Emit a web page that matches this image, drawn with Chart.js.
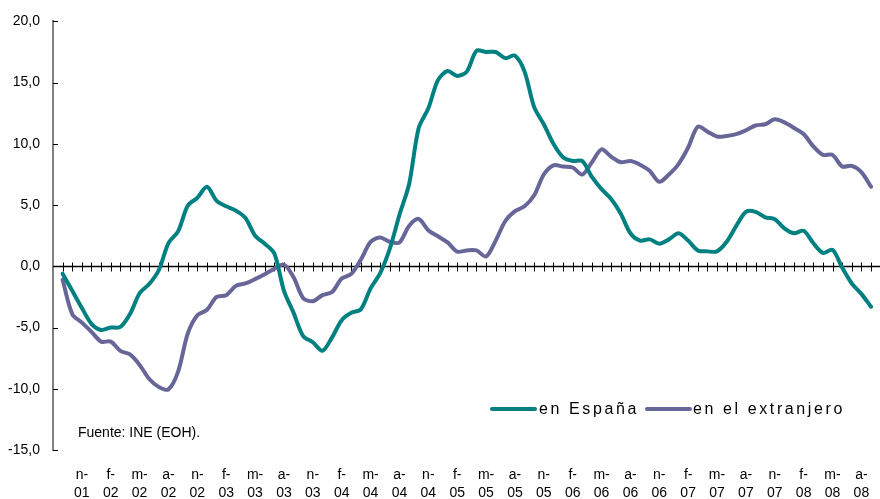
<!DOCTYPE html>
<html>
<head>
<meta charset="utf-8">
<script src="https://cdn.jsdelivr.net/npm/chart.js@4.4.1/dist/chart.umd.min.js"></script>
<style>
  body { margin: 0; background: #fff; font-family: "Liberation Sans", Arial, sans-serif; }
  #wrap { position: relative; width: 880px; height: 499px; }
  #wrap canvas { position: absolute; left: 0; top: 0; }
  .linea { position: absolute; top: 407px; width: 47px; height: 4px; border-radius: 2px; }
  .texto { position: absolute; top: 399px; font-size: 16px; line-height: 20px; letter-spacing: 2.6px; color: #000; white-space: nowrap; }
  #fuente { position: absolute; left: 78px; top: 424px; font-size: 14px; line-height: 16px; color: #000; }
</style>
</head>
<body>
<div id="wrap">
  <canvas id="grafico" width="880" height="499"></canvas>
  <div class="linea" style="left:490px;background:#008080"></div>
  <div class="texto" style="left:539px">en España</div>
  <div class="linea" style="left:645px;background:#666699"></div>
  <div class="texto" style="left:693px">en el extranjero</div>
  <div id="fuente">Fuente: INE (EOH).</div>
</div>
<script>
// Meses de agosto 2001 a septiembre 2008 (el primero va sin dato)
var categorias = [
  'a-01','s-01','o-01','n-01','d-01',
  'e-02','f-02','m-02','a-02','m-02','j-02','j-02','a-02','s-02','o-02','n-02','d-02',
  'e-03','f-03','m-03','a-03','m-03','j-03','j-03','a-03','s-03','o-03','n-03','d-03',
  'e-04','f-04','m-04','a-04','m-04','j-04','j-04','a-04','s-04','o-04','n-04','d-04',
  'e-05','f-05','m-05','a-05','m-05','j-05','j-05','a-05','s-05','o-05','n-05','d-05',
  'e-06','f-06','m-06','a-06','m-06','j-06','j-06','a-06','s-06','o-06','n-06','d-06',
  'e-07','f-07','m-07','a-07','m-07','j-07','j-07','a-07','s-07','o-07','n-07','d-07',
  'e-08','f-08','m-08','a-08','m-08','j-08','j-08','a-08','s-08'
];

// Etiquetas del eje X (una cada tres meses)
var etiquetasX = ['n-01','f-02','m-02','a-02','n-02','f-03','m-03','a-03','n-03','f-04','m-04','a-04','n-04','f-05',
  'm-05','a-05','n-05','f-06','m-06','a-06','n-06','f-07','m-07','a-07','n-07','f-08','m-08','a-08'];

var enEspana = [null,
  -0.6, -2.0, -3.4, -4.7, -5.2, -5.0, -4.95, -3.9, -2.2, -1.45,
  -0.3, 1.9, 2.85, 4.95, 5.6, 6.5, 5.35, 4.9, 4.55, 3.95,
  2.5, 1.85, 1.05, -2.0, -3.8, -5.7, -6.2, -6.9, -5.8, -4.4,
  -3.8, -3.5, -1.8, -0.55, 1.45, 4.2, 6.7, 11.3, 12.9, 15.2,
  15.95, 15.55, 15.9, 17.6, 17.5, 17.5, 17.0, 17.2, 15.9, 13.0,
  11.6, 10.0, 8.9, 8.6, 8.6, 7.3, 6.3, 5.5, 4.3, 2.7,
  2.1, 2.2, 1.85, 2.2, 2.7, 2.1, 1.3, 1.22, 1.22, 2.0,
  3.3, 4.45, 4.45, 4.0, 3.85, 3.1, 2.7, 2.9, 1.9, 1.1,
  1.35, -0.1, -1.4, -2.25, -3.3
];

var enExtranjero = [null,
  -1.1, -3.9, -4.6, -5.35, -6.15, -6.15, -6.9, -7.2, -8.05, -9.2,
  -9.85, -10.05, -8.6, -5.5, -4.0, -3.55, -2.5, -2.36, -1.6, -1.4,
  -1.05, -0.65, -0.2, 0.15, -0.9, -2.6, -2.85, -2.35, -2.1, -1.0,
  -0.62, 0.55, 2.0, 2.35, 2.0, 1.95, 3.3, 3.87, 2.95, 2.45,
  1.95, 1.2, 1.3, 1.3, 0.8, 2.1, 3.7, 4.5, 4.9, 5.8,
  7.5, 8.25, 8.15, 8.07, 7.5, 8.5, 9.55, 8.95, 8.5, 8.6,
  8.3, 7.8, 6.9, 7.5, 8.35, 9.7, 11.4, 11.0, 10.6, 10.65,
  10.8, 11.1, 11.5, 11.6, 12.0, 11.75, 11.3, 10.8, 9.8, 9.1,
  9.1, 8.15, 8.2, 7.7, 6.5
];

// Linea del cero con las marcas de cada mes y marcas del eje Y
var ejeCero = {
  id: 'ejeCero',
  beforeDatasetsDraw: function(chart) {
    var ctx = chart.ctx;
    var sx = chart.scales.x, sy = chart.scales.y;
    var y0 = Math.round(sy.getPixelForValue(0)) + 0.5;
    var izq = chart.chartArea.left;
    ctx.save();
    ctx.strokeStyle = '#000';
    ctx.lineWidth = 1.5;
    ctx.beginPath();
    ctx.moveTo(izq, y0);
    ctx.lineTo(chart.width, y0);
    ctx.stroke();
    ctx.lineWidth = 1;
    ctx.beginPath();
    for (var i = 1; i < categorias.length; i++) {
      var px = Math.round(sx.getPixelForValue(i)) + 0.5;
      ctx.moveTo(px, y0 - 4);
      ctx.lineTo(px, y0 + 5);
    }
    for (var v = -15; v <= 20; v += 5) {
      var py = Math.round(sy.getPixelForValue(v)) + 0.5;
      ctx.moveTo(izq, py);
      ctx.lineTo(izq + 5, py);
    }
    ctx.stroke();
    ctx.restore();
  }
};

Chart.defaults.font.family = '"Liberation Sans", Arial, sans-serif';
Chart.defaults.color = '#000';

var ctx = document.getElementById('grafico').getContext('2d');
var miGrafico = new Chart(ctx, {
  type: 'line',
  data: {
    labels: categorias,
    datasets: [{
      label: 'en España',
      data: enEspana,
      borderColor: '#008080',
      borderWidth: 4,
      tension: 0.3,
      pointRadius: 0,
      borderCapStyle: 'round',
      borderJoinStyle: 'round'
    }, {
      label: 'en el extranjero',
      data: enExtranjero,
      borderColor: '#666699',
      borderWidth: 4,
      tension: 0.3,
      pointRadius: 0,
      borderCapStyle: 'round',
      borderJoinStyle: 'round'
    }]
  },
  options: {
    responsive: false,
    animation: false,
    layout: { padding: { top: 17, right: 9, left: 0, bottom: 0 } },
    plugins: {
      legend: { display: false },
      tooltip: { enabled: false }
    },
    scales: {
      x: {
        offset: false,
        grid: { display: false, drawTicks: false },
        border: { display: false },
        afterFit: function(scale) {
          scale.height = 49;
          scale.paddingLeft = 0;
          scale.paddingRight = 0;
        },
        ticks: {
          autoSkip: false,
          maxRotation: 0,
          padding: 16,
          font: { size: 14, lineHeight: 1.3 },
          callback: function(val, i) {
            if (i > 0 && i % 3 === 0) {
              var t = etiquetasX[i / 3 - 1];
              return [t.slice(0, 2), t.slice(2)];
            }
            return null;
          }
        }
      },
      y: {
        min: -15,
        max: 20,
        grid: { display: false, drawTicks: false },
        border: { color: '#808080', width: 2 },
        afterFit: function(scale) { scale.width = 53; },
        ticks: {
          stepSize: 5,
          padding: 13,
          font: { size: 14 },
          callback: function(v) { return v.toFixed(1).replace('.', ','); }
        }
      }
    }
  },
  plugins: [ejeCero]
});
</script>
</body>
</html>
